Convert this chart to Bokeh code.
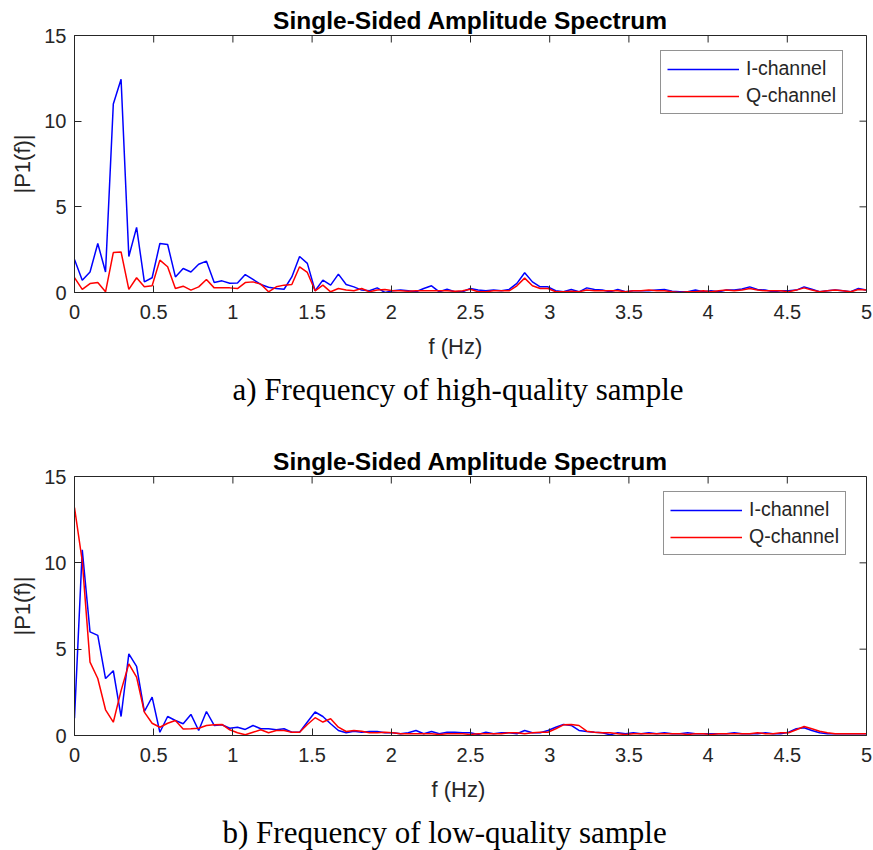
from bokeh.plotting import figure
from bokeh.models import Range1d, FixedTicker, Title, Legend, LegendItem
from bokeh.layouts import column
from bokeh.embed import file_html
from bokeh.resources import INLINE
import numpy as np

# ---------------- data ----------------
DF = 0.049  # FFT bin spacing (Hz)

I_HIGH = [1.93, 0.72, 1.2, 2.86, 1.2, 11.0, 12.45, 2.1, 3.8, 0.62,
          0.86, 2.86, 2.8, 0.91, 1.4, 1.2, 1.65, 1.83, 0.58, 0.68,
          0.54, 0.56, 1.05, 0.76, 0.47, 0.31, 0.23, 0.19, 0.91, 2.1,
          1.7, 0.1, 0.72, 0.43, 1.07, 0.47, 0.33, 0.14, 0.1, 0.27,
          0.0, 0.1, 0.14, 0.1, 0.04, 0.23, 0.39, 0.04, 0.19, 0.04,
          0.04, 0.23, 0.14, 0.1, 0.14, 0.1, 0.18, 0.53, 1.15, 0.62,
          0.33, 0.33, 0.1, 0.04, 0.18, 0.04, 0.27, 0.18, 0.14, 0.04,
          0.18, 0.04, 0.1, 0.1, 0.1, 0.14, 0.18, 0.08, 0.04, 0.04,
          0.14, 0.04, 0.1, 0.04, 0.14, 0.14, 0.2, 0.33, 0.18, 0.14,
          0.04, 0.1, 0.1, 0.14, 0.33, 0.19, 0.04, 0.1, 0.14, 0.1,
          0.04, 0.23, 0.14]

Q_HIGH = [0.86, 0.18, 0.52, 0.58, 0.04, 2.33, 2.37, 0.18, 0.86, 0.33,
          0.39, 1.89, 1.5, 0.23, 0.37, 0.14, 0.33, 0.76, 0.27, 0.27,
          0.27, 0.23, 0.58, 0.62, 0.49, 0.04, 0.33, 0.43, 0.47, 1.5,
          1.17, 0.1, 0.43, 0.04, 0.23, 0.14, 0.1, 0.23, 0.04, 0.14,
          0.18, 0.1, 0.1, 0.08, 0.1, 0.1, 0.1, 0.1, 0.1, 0.08,
          0.1, 0.19, 0.04, 0.04, 0.1, 0.1, 0.1, 0.39, 0.84, 0.39,
          0.23, 0.23, 0.04, 0.04, 0.08, 0.04, 0.14, 0.1, 0.1, 0.1,
          0.1, 0.04, 0.1, 0.1, 0.14, 0.1, 0.1, 0.04, 0.0, 0.04,
          0.04, 0.1, 0.04, 0.1, 0.14, 0.1, 0.14, 0.23, 0.14, 0.1,
          0.1, 0.1, 0.04, 0.14, 0.27, 0.14, 0.04, 0.1, 0.14, 0.1,
          0.04, 0.18, 0.14]

I_LOW = [1.0, 10.75, 6.0, 5.8, 3.3, 3.75, 1.1, 4.73, 4.0, 1.39,
         2.22, 0.19, 1.1, 0.87, 0.68, 1.22, 0.29, 1.39, 0.58, 0.62,
         0.42, 0.48, 0.35, 0.58, 0.39, 0.39, 0.33, 0.39, 0.19, 0.19,
         0.78, 1.36, 1.1, 0.68, 0.29, 0.16, 0.25, 0.19, 0.23, 0.23,
         0.16, 0.16, 0.1, 0.16, 0.29, 0.1, 0.23, 0.1, 0.19, 0.19,
         0.16, 0.16, 0.06, 0.19, 0.1, 0.16, 0.16, 0.1, 0.29, 0.16,
         0.16, 0.29, 0.48, 0.64, 0.58, 0.29, 0.23, 0.19, 0.16, 0.04,
         0.16, 0.1, 0.16, 0.1, 0.16, 0.1, 0.16, 0.1, 0.1, 0.16,
         0.1, 0.1, 0.1, 0.1, 0.1, 0.16, 0.1, 0.1, 0.1, 0.16,
         0.1, 0.1, 0.19, 0.39, 0.45, 0.29, 0.16, 0.1, 0.1, 0.1,
         0.1, 0.1, 0.1]

Q_LOW = [13.2, 10.1, 4.25, 3.3, 1.49, 0.77, 2.6, 4.15, 3.38, 1.35,
         0.71, 0.48, 0.71, 0.87, 0.37, 0.39, 0.42, 0.58, 0.62, 0.64,
         0.33, 0.16, 0.04, 0.19, 0.33, 0.16, 0.29, 0.29, 0.19, 0.19,
         0.64, 1.03, 0.78, 0.97, 0.48, 0.23, 0.29, 0.25, 0.16, 0.16,
         0.19, 0.16, 0.1, 0.1, 0.1, 0.1, 0.1, 0.06, 0.1, 0.1,
         0.1, 0.06, 0.1, 0.1, 0.1, 0.1, 0.16, 0.16, 0.1, 0.16,
         0.19, 0.19, 0.39, 0.62, 0.64, 0.58, 0.25, 0.19, 0.16, 0.16,
         0.1, 0.06, 0.1, 0.1, 0.1, 0.1, 0.1, 0.1, 0.1, 0.06,
         0.1, 0.1, 0.06, 0.1, 0.1, 0.1, 0.1, 0.1, 0.16, 0.1,
         0.1, 0.16, 0.16, 0.33, 0.52, 0.39, 0.25, 0.16, 0.1, 0.1,
         0.1, 0.1, 0.1]

X_TICKS = [0, 0.5, 1, 1.5, 2, 2.5, 3, 3.5, 4, 4.5, 5]
X_TICK_LABELS = ["0", "0.5", "1", "1.5", "2", "2.5", "3", "3.5", "4", "4.5", "5"]
Y_TICKS = [0, 5, 10, 15]
Y_TICK_LABELS = ["0", "5", "10", "15"]
SERIES_NAMES = ["I-channel", "Q-channel"]
SERIES_COLORS = ["#0000FF", "#FF0000"]
TITLE = "Single-Sided Amplitude Spectrum"
X_LABEL = "f (Hz)"
Y_LABEL = "|P1(f)|"
CAPTIONS = ["a) Frequency of high-quality sample", "b) Frequency of low-quality sample"]

SANS = "Liberation Sans"
SERIF = "Liberation Serif"
AX = "#262626"
X_MIN, X_MAX, Y_MIN, Y_MAX = 0, 5, 0, 15
TICK_PX = 7


def style_axis(ax):
    ax.major_tick_in = TICK_PX
    ax.major_tick_out = 0
    ax.minor_tick_in = 0
    ax.minor_tick_out = 0
    ax.axis_line_color = AX
    ax.major_tick_line_color = AX
    ax.axis_line_width = 1
    ax.major_label_text_font = SANS
    ax.major_label_text_font_size = "20px"
    ax.major_label_text_color = AX


def make_panel(i_vals, q_vals, caption, left, top, bottom, xlab_off, cap_off, leg_xy):
    width, height, right = 873, 425, 7
    frame_w = width - left - right
    frame_h = height - top - bottom
    freqs = np.arange(len(i_vals)) * DF
    p = figure(width=width, height=height, output_backend="svg", toolbar_location=None,
               x_range=Range1d(X_MIN, X_MAX), y_range=Range1d(Y_MIN, Y_MAX),
               min_border_left=left, min_border_right=right,
               min_border_top=top, min_border_bottom=bottom)
    p.xgrid.visible = False
    p.ygrid.visible = False
    p.outline_line_color = AX
    p.background_fill_color = "white"
    p.border_fill_color = "white"

    xax = p.xaxis[0]
    yax = p.yaxis[0]
    xax.ticker = FixedTicker(ticks=X_TICKS)
    yax.ticker = FixedTicker(ticks=Y_TICKS)
    xax.major_label_overrides = {t: l for t, l in zip(X_TICKS, X_TICK_LABELS)}
    yax.major_label_overrides = {t: l for t, l in zip(Y_TICKS, Y_TICK_LABELS)}
    style_axis(xax)
    style_axis(yax)
    xax.major_label_standoff = 12
    yax.major_label_standoff = 8
    yax.axis_label = Y_LABEL
    yax.axis_label_text_font = SANS
    yax.axis_label_text_font_size = "22px"
    yax.axis_label_text_font_style = "normal"
    yax.axis_label_text_color = AX
    yax.axis_label_standoff = 6

    # inward ticks on the top and right edges of the box (MATLAB "box on")
    ty = (Y_MAX - Y_MIN) * TICK_PX / frame_h
    tx = (X_MAX - X_MIN) * TICK_PX / frame_w
    p.segment(x0=X_TICKS, y0=[Y_MAX] * len(X_TICKS), x1=X_TICKS,
              y1=[Y_MAX - ty] * len(X_TICKS), line_color=AX, line_width=1)
    p.segment(x0=[X_MAX] * len(Y_TICKS), y0=Y_TICKS, x1=[X_MAX - tx] * len(Y_TICKS),
              y1=Y_TICKS, line_color=AX, line_width=1)

    p.title.text = TITLE
    p.title.align = "center"
    p.title.text_font = SANS
    p.title.text_font_size = "24.5px"
    p.title.text_font_style = "bold"
    p.title.text_color = "black"
    p.title.standoff = 3

    xl = Title(text=X_LABEL, align="left", offset=xlab_off, text_font=SANS,
               text_font_size="22px", text_font_style="normal", text_color=AX, standoff=21)
    p.add_layout(xl, "below")
    cap = Title(text=caption, align="left", offset=cap_off, text_font=SERIF,
                text_font_size="31px", text_font_style="normal", text_color="black", standoff=0)
    p.add_layout(cap, "below")

    r1 = p.line(freqs, i_vals, line_color=SERIES_COLORS[0], line_width=1.5)
    r2 = p.line(freqs, q_vals, line_color=SERIES_COLORS[1], line_width=1.5)

    legend = Legend(items=[LegendItem(label=SERIES_NAMES[0], renderers=[r1]),
                           LegendItem(label=SERIES_NAMES[1], renderers=[r2])],
                    location=leg_xy, margin=0, padding=6, spacing=4,
                    glyph_width=72, glyph_height=22, label_height=22,
                    label_standoff=7, label_text_font=SANS,
                    label_text_font_size="19.5px", label_text_color=AX,
                    border_line_color=AX, border_line_width=1,
                    background_fill_alpha=1.0)
    p.add_layout(legend, "center")
    return p


p1 = make_panel(I_HIGH, Q_HIGH, CAPTIONS[0], left=74, top=35, bottom=133,
                xlab_off=354, cap_off=158, leg_xy=(586, 178))
p2 = make_panel(I_LOW, Q_LOW, CAPTIONS[1], left=70, top=51, bottom=115,
                xlab_off=357, cap_off=148, leg_xy=(589, 180))

layout = column(p1, p2, spacing=0)
open("out.html", "w").write(file_html(layout, INLINE))
